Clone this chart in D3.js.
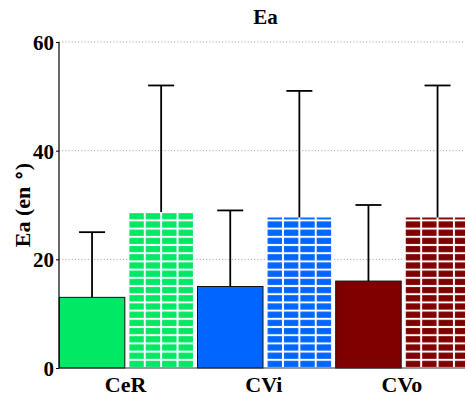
<!DOCTYPE html>
<html>
<head>
<meta charset="utf-8">
<script src="https://cdn.jsdelivr.net/npm/d3@7"></script>
<style>
  html, body { margin: 0; padding: 0; background: #fff; }
  svg { display: block; }
  text { font-family: "Liberation Serif", "Times New Roman", serif; font-weight: bold; fill: #000; }
</style>
</head>
<body>
<svg id="chart" width="465" height="398"></svg>
<script>
// ---- data ----
const categories = ["CeR", "CVi", "CVo"];
const series = ["solid", "hatched"];
const solidValues = [13, 15, 16];
const solidErrors = [25, 29, 30];        // top of error bar
const hatchedValues = [28.7, 27.7, 27.7];
const hatchedErrors = [52, 51, 52];      // top of error bar
const colors = ["#00e864", "#0066ff", "#800000"];
const yTicks = [0, 20, 40, 60];
const titleText = "Ea";

// ---- layout ----
const svg = d3.select("#chart");
const plotTop = 42, plotBottom = 368, axisX = 59;
const groupStep = 138.2;

const y = d3.scaleLinear().domain([0, 60]).range([plotBottom, plotTop]);
const x0 = d3.scaleBand().domain(categories).range([57.5, 57.5 + 3 * groupStep]).padding(0);
const x1 = d3.scaleBand().domain(series).range([0, x0.bandwidth()]).paddingInner(0.052).paddingOuter(0.026);

const rows = categories.map((c, i) => [
  { cat: c, s: "solid", v: solidValues[i], e: solidErrors[i], color: colors[i], i },
  { cat: c, s: "hatched", v: hatchedValues[i], e: hatchedErrors[i], color: colors[i], i }
]).flat();

// grid lines
svg.append("g").selectAll("line").data(yTicks.filter(t => t > 0)).join("line")
  .attr("x1", axisX).attr("x2", 465)
  .attr("y1", d => y(d)).attr("y2", d => y(d))
  .attr("stroke", "#9a9a9a").attr("stroke-width", 1)
  .attr("stroke-dasharray", "1,2.2");

// patterns for hatched bars
const defs = svg.append("defs");
const bw = x1.bandwidth();
const rowH = 8.2;
rows.filter(d => d.s === "hatched").forEach(d => {
  const bx = x0(d.cat) + x1(d.s);
  const p = defs.append("pattern")
    .attr("id", "pat" + d.i)
    .attr("patternUnits", "userSpaceOnUse")
    .attr("x", bx).attr("y", y(0))
    .attr("width", bw / 4).attr("height", rowH);
  p.append("rect").attr("width", bw / 4).attr("height", rowH).attr("fill", "#fff");
  p.append("rect").attr("x", 1).attr("y", 1)
    .attr("width", bw / 4 - 2).attr("height", rowH - 2).attr("fill", d.color);
});

// bars
svg.append("g").selectAll("rect").data(rows).join("rect")
  .attr("x", d => x0(d.cat) + x1(d.s))
  .attr("width", bw)
  .attr("y", d => y(d.v))
  .attr("height", d => y(0) - y(d.v))
  .attr("fill", d => d.s === "solid" ? d.color : "url(#pat" + d.i + ")")
  .attr("stroke", d => d.s === "solid" ? "#111" : "none")
  .attr("stroke-width", 1);

// error bars
const eg = svg.append("g").attr("stroke", "#000").attr("stroke-width", 1.8);
eg.selectAll("line.v").data(rows).join("line").attr("class", "v")
  .attr("x1", d => x0(d.cat) + x1(d.s) + bw / 2)
  .attr("x2", d => x0(d.cat) + x1(d.s) + bw / 2)
  .attr("y1", d => y(d.v)).attr("y2", d => y(d.e));
eg.selectAll("line.c").data(rows).join("line").attr("class", "c")
  .attr("x1", d => x0(d.cat) + x1(d.s) + bw / 2 - 13)
  .attr("x2", d => x0(d.cat) + x1(d.s) + bw / 2 + 13)
  .attr("y1", d => y(d.e)).attr("y2", d => y(d.e));

// y axis
const yAxis = d3.axisLeft(y).tickValues(yTicks).tickSize(3).tickPadding(2).tickFormat(d3.format("d"));
const ya = svg.append("g").attr("transform", `translate(${axisX},0)`).call(yAxis);
ya.select(".domain").attr("stroke", "#000").attr("stroke-width", 1.2).attr("d", `M0,${plotBottom}V${plotTop}`);
ya.selectAll(".tick line").attr("stroke", "#000");
ya.selectAll(".tick text")
  .style("font-size", "21px")
  .style("font-family", "'Liberation Serif', serif")
  .style("font-weight", "bold")
  .attr("dy", "0.36em");

// x axis baseline
svg.append("line").attr("x1", axisX).attr("x2", 465).attr("y1", y(0)).attr("y2", y(0))
  .attr("stroke", "#333").attr("stroke-width", 1);

// category labels
svg.append("g").selectAll("text").data(categories).join("text")
  .attr("x", d => x0(d) + x0.bandwidth() / 2 - 1)
  .attr("y", 392)
  .attr("text-anchor", "middle")
  .style("font-size", "22px")
  .text(d => d);

// title
svg.append("text").attr("x", 265.5).attr("y", 24).attr("text-anchor", "middle")
  .style("font-size", "21px").text(titleText);

// y label
const yl = svg.append("text")
  .attr("transform", `translate(30,${(plotTop + plotBottom) / 2}) rotate(-90)`)
  .attr("text-anchor", "middle")
  .style("font-size", "22px");
yl.append("tspan").text("Ea (en ");
yl.append("tspan").style("font-size", "18px").attr("dy", -6).text("\u2218");
yl.append("tspan").attr("dy", 6).text(")");
</script>
</body>
</html>
